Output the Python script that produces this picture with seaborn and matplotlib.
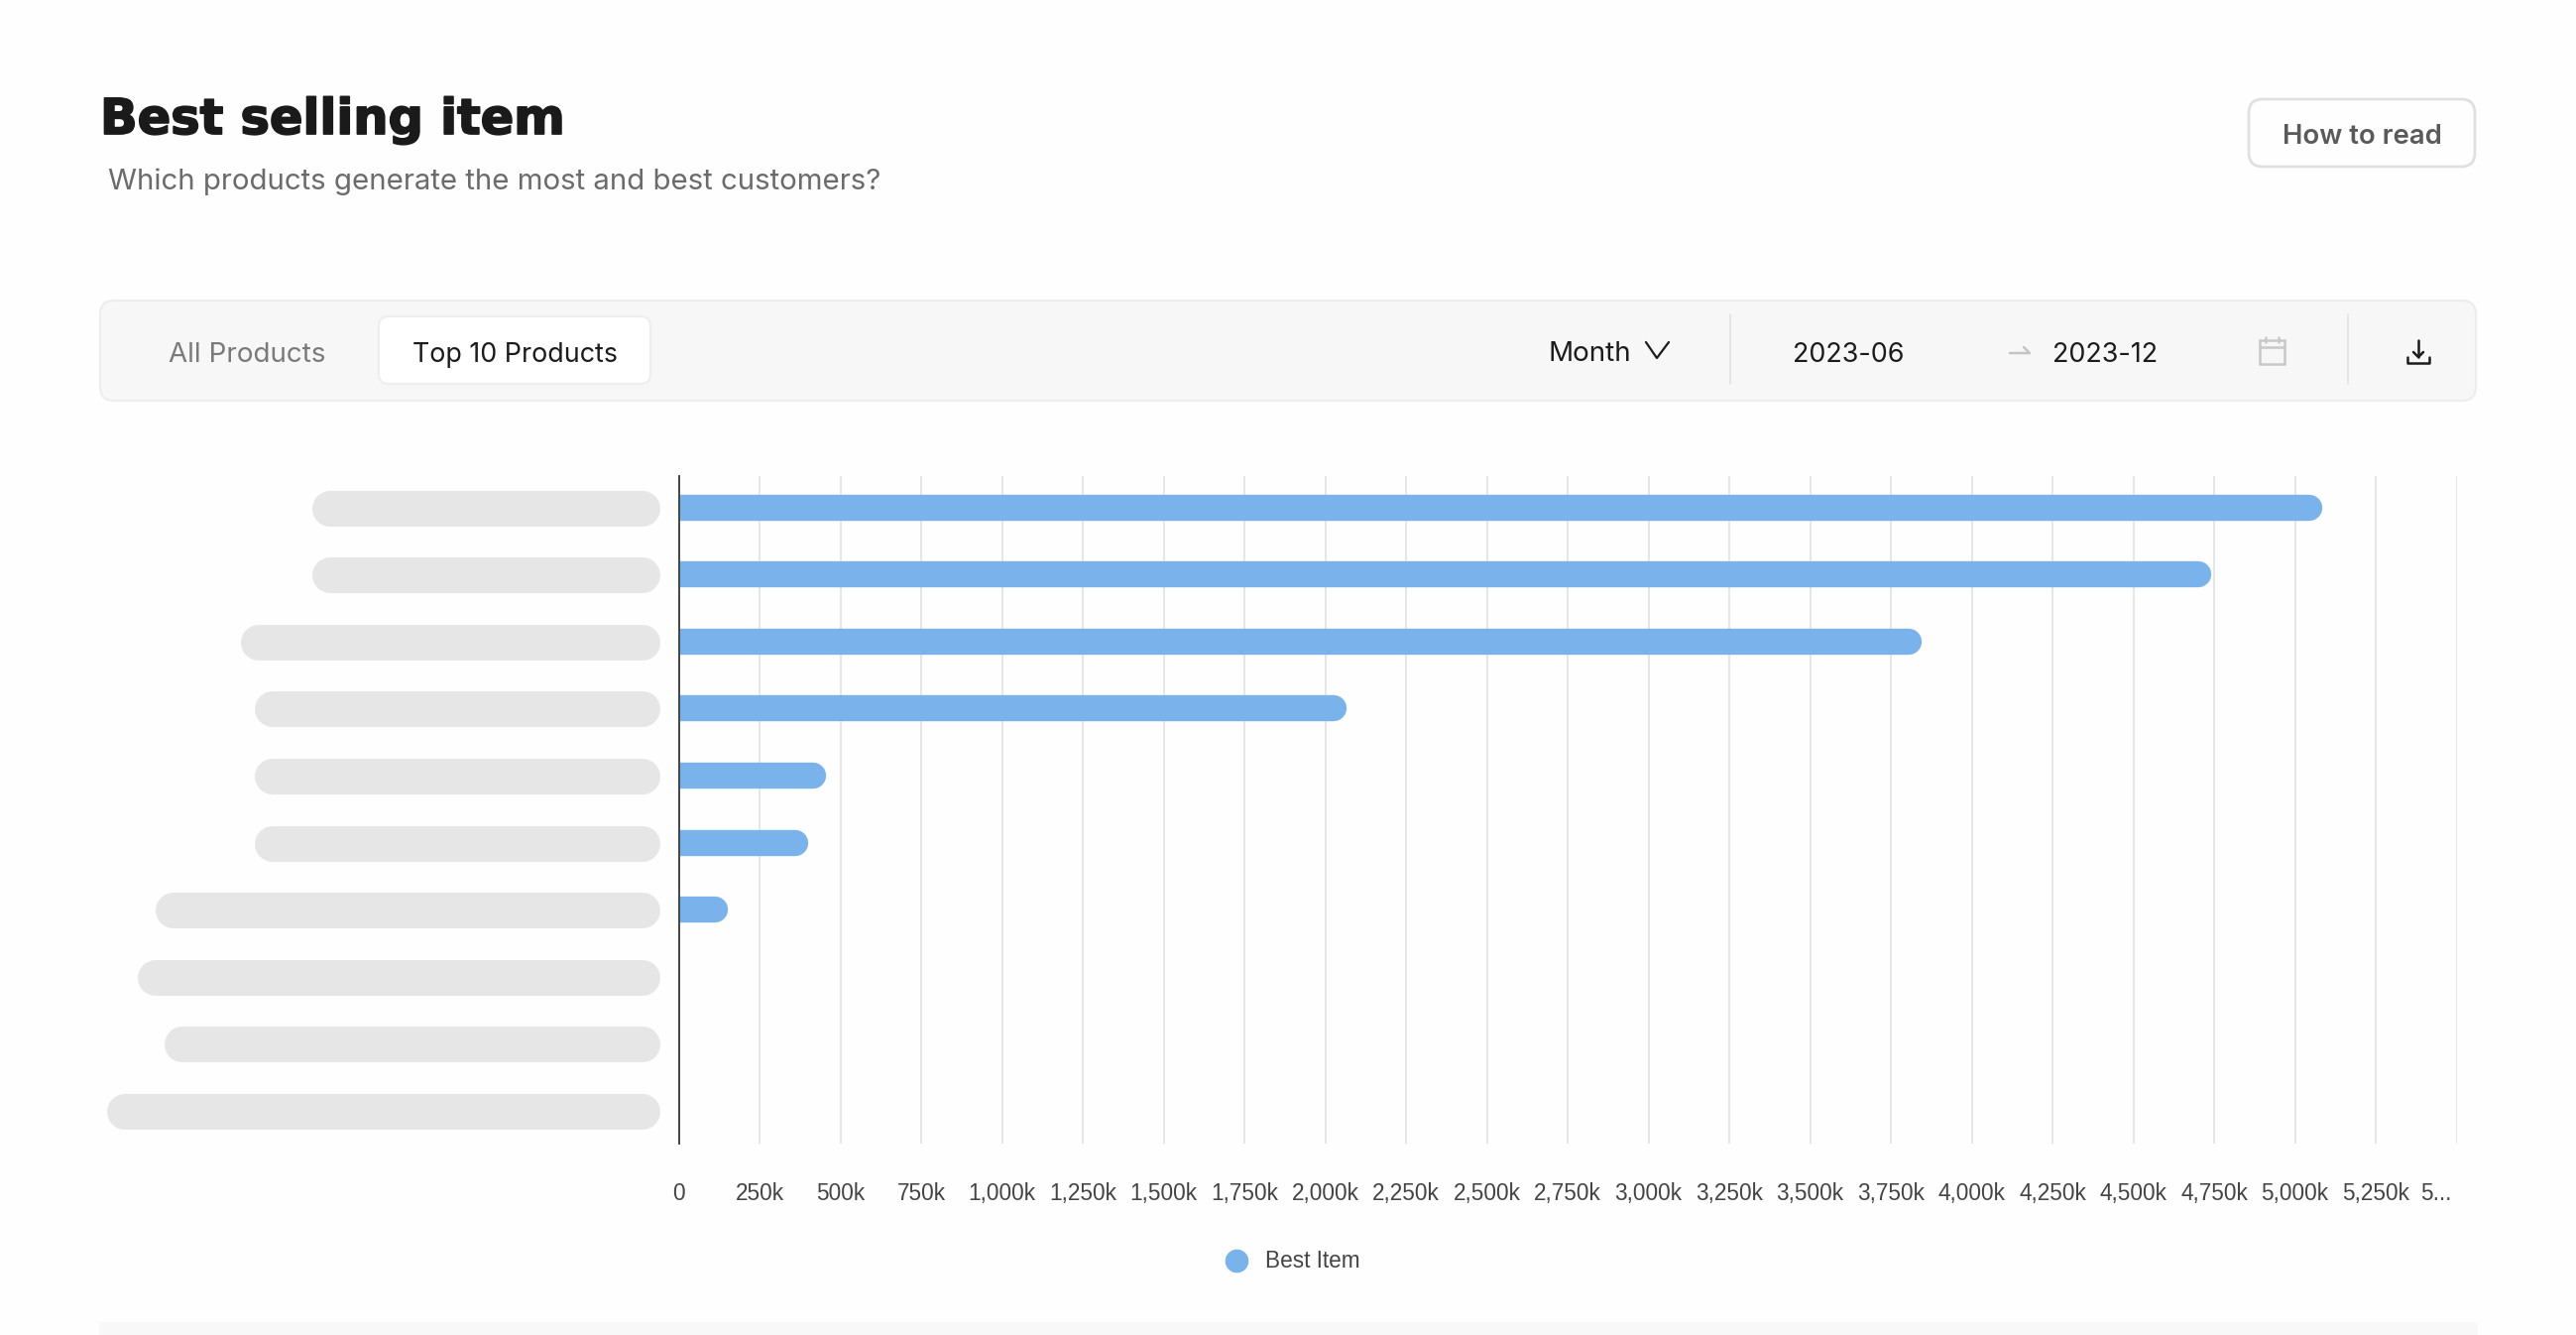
import matplotlib
matplotlib.use("Agg")
import matplotlib.patheffects as pe
import matplotlib.pyplot as plt
import pandas as pd
import seaborn as sns
from matplotlib.lines import Line2D
from matplotlib.patches import FancyBboxPatch
from matplotlib.transforms import IdentityTransform, ScaledTranslation

# product names are blanked out in the source, so only the pill lengths are known
products = [f"Product {i}" for i in range(1, 11)]
best_item = [5085, 4740, 3846, 2067, 457, 401, 152, 0, 0, 0]
pill_widths = [351, 351, 423, 409, 409, 409, 509, 527, 500, 558]
tick_values = list(range(0, 5750, 250))
tick_labels = ["0", "250k", "500k", "750k", "1,000k", "1,250k", "1,500k", "1,750k",
               "2,000k", "2,250k", "2,500k", "2,750k", "3,000k", "3,250k", "3,500k",
               "3,750k", "4,000k", "4,250k", "4,500k", "4,750k", "5,000k", "5,250k", "5..."]

W, H = 2598, 1346
BLUE = "#7ab3ec"
UI_FONT = "Inter"
CHART_FONT = "Liberation Sans"
PX = 0.72  # points per pixel at dpi 100

sns.set_theme(style="white")
plt.rcParams["font.family"] = [CHART_FONT, "DejaVu Sans"]

fig = plt.figure(figsize=(W / 100, H / 100), dpi=100, facecolor="#fefefe")

# page furniture lives on a full figure axes measured in pixels
ui = fig.add_axes([0, 0, 1, 1], zorder=0)
ui.set_xlim(0, W)
ui.set_ylim(H, 0)
ui.axis("off")


def box(x0, y0, x1, y1, r, face, edge, lw=2):
    ui.add_patch(FancyBboxPatch((x0, y0), x1 - x0, y1 - y0,
                                boxstyle=f"round,pad=0,rounding_size={r}",
                                fc=face, ec=edge, lw=lw))


def line(xs, ys, color, lw=2):
    ui.add_line(Line2D(xs, ys, color=color, lw=lw, solid_capstyle="round"))


# the original title is heavier than any installed bold, a thin stroke makes up for it
title = ui.text(101, 121, "Best selling item", fontsize=35.6, fontweight="bold",
                family="DejaVu Sans", color="#1a1a1a", va="center")
title.set_path_effects([pe.withStroke(linewidth=1.3, foreground="#1a1a1a")])
ui.text(109, 183, "Which products generate the most and best customers?", fontsize=21.2,
        family=UI_FONT, color="#6b6b6b", va="center")

box(2268, 100, 2496, 168, 14, "#fefefe", "#e0e0e0", 2)
ui.text(2382, 138, "How to read", fontsize=19.8, fontweight="semibold", family=UI_FONT,
        color="#5a5a5a", va="center", ha="center")

box(101, 303, 2497, 404, 14, "#f7f7f7", "#ededed", 1.5)
box(382, 319, 656, 387, 10, "#ffffff", "#eeeeee", 1.5)
ui.text(170, 358, "All Products", fontsize=20, family=UI_FONT, color="#7a7a7a", va="center")
ui.text(416, 358, "Top 10 Products", fontsize=19.3, family=UI_FONT, color="#1c1c1c", va="center")
ui.text(1562, 357, "Month", fontsize=20, family=UI_FONT, color="#1c1c1c", va="center")
ui.text(1808, 358, "2023-06", fontsize=19.4, family=UI_FONT, color="#1c1c1c", va="center")
ui.text(2070, 358, "2023-12", fontsize=19.4, family=UI_FONT, color="#1c1c1c", va="center")

line([1660, 1671, 1683], [345, 361, 345], "#1c1c1c", 1.6)
line([1745, 1745], [317, 387], "#e2e2e2", 1.2)
line([2368, 2368], [317, 387], "#e2e2e2", 1.2)
line([2027, 2047, 2041], [356, 356, 350], "#c4c4c4", 1.8)

# calendar icon
ui.add_patch(plt.Rectangle((2279, 343), 25, 24, fc="none", ec="#c8c8c8", lw=1.8))
line([2279, 2304], [350, 350], "#c8c8c8", 1.8)
line([2285, 2285], [340, 345], "#c8c8c8", 1.8)
line([2298, 2298], [340, 345], "#c8c8c8", 1.8)

# download icon
line([2439, 2439], [343, 360], "#1c1c1c", 1.8)
line([2434, 2439, 2444], [355, 360, 355], "#1c1c1c", 1.8)
line([2428, 2428, 2450, 2450], [360, 366, 366, 360], "#1c1c1c", 1.8)

ui.add_patch(plt.Rectangle((100, 1333), 2399, 13, fc="#f8f8f8", ec="none"))

# the chart itself
ax = fig.add_axes([684.6 / W, 1 - 1153 / H, (2477.5 - 684.6) / W, (1153 - 480) / H], zorder=1)
ax.patch.set_alpha(0)
df = pd.DataFrame({"product": products, "value": best_item})
sns.barplot(data=df, x="value", y="product", color=BLUE, saturation=1, width=0.39, ax=ax)

ax.set_xlim(0, 5500)
ax.set_ylim(9.49, -0.47)
ax.set_xticks(tick_values)
ax.set_xticklabels(tick_labels, fontsize=16.3, color="#444444")
ax.set_yticks([])
ax.set_xlabel("")
ax.set_ylabel("")
ax.tick_params(axis="x", length=0, pad=28)
ax.xaxis.grid(True, color="#e4e4e4", lw=1.3)
ax.set_axisbelow(True)
sns.despine(ax=ax, top=True, right=True, bottom=True)
ax.spines["left"].set_color("#444444")
ax.spines["left"].set_linewidth(1.4)
ax.spines["left"].set_zorder(5)

# last label is cut short and pulled in from the edge
last = ax.get_xticklabels()[-1]
last.set_ha("right")
last.set_transform(last.get_transform() + ScaledTranslation(-5 / 100, 0, fig.dpi_scale_trans))

# round the bar ends: swap each bar for a thick round capped line, the axes clips the left cap
fig.canvas.draw()
for bar in list(ax.patches):
    x0, y0, x1, y1 = bar.get_window_extent().extents
    bar.set_visible(False)
    if x1 - x0 < 1:
        continue
    r = (y1 - y0) / 2
    yc = (y0 + y1) / 2
    ax.add_line(Line2D([x0 - r, x1 - r], [yc, yc], color=BLUE, lw=(y1 - y0) * PX,
                       solid_capstyle="round", transform=IdentityTransform(), zorder=3))

# grey placeholders where the product names were hidden
for i, width in enumerate(pill_widths):
    yc = H - ax.transData.transform((0, i))[1] + 1
    ui.add_line(Line2D([666 - width + 18, 666 - 18], [yc, yc], color="#e6e6e6", lw=36 * PX,
                       solid_capstyle="round"))

handle = Line2D([], [], marker="o", ls="none", color=BLUE, markersize=16)
ax.legend([handle], ["Best Item"], loc="center", bbox_to_anchor=(1298 / W, 1 - 1272 / H),
          bbox_transform=fig.transFigure, frameon=False, fontsize=16.3, labelcolor="#444444",
          handletextpad=0.3)

fig.savefig("out.png", dpi=100, facecolor=fig.get_facecolor())
